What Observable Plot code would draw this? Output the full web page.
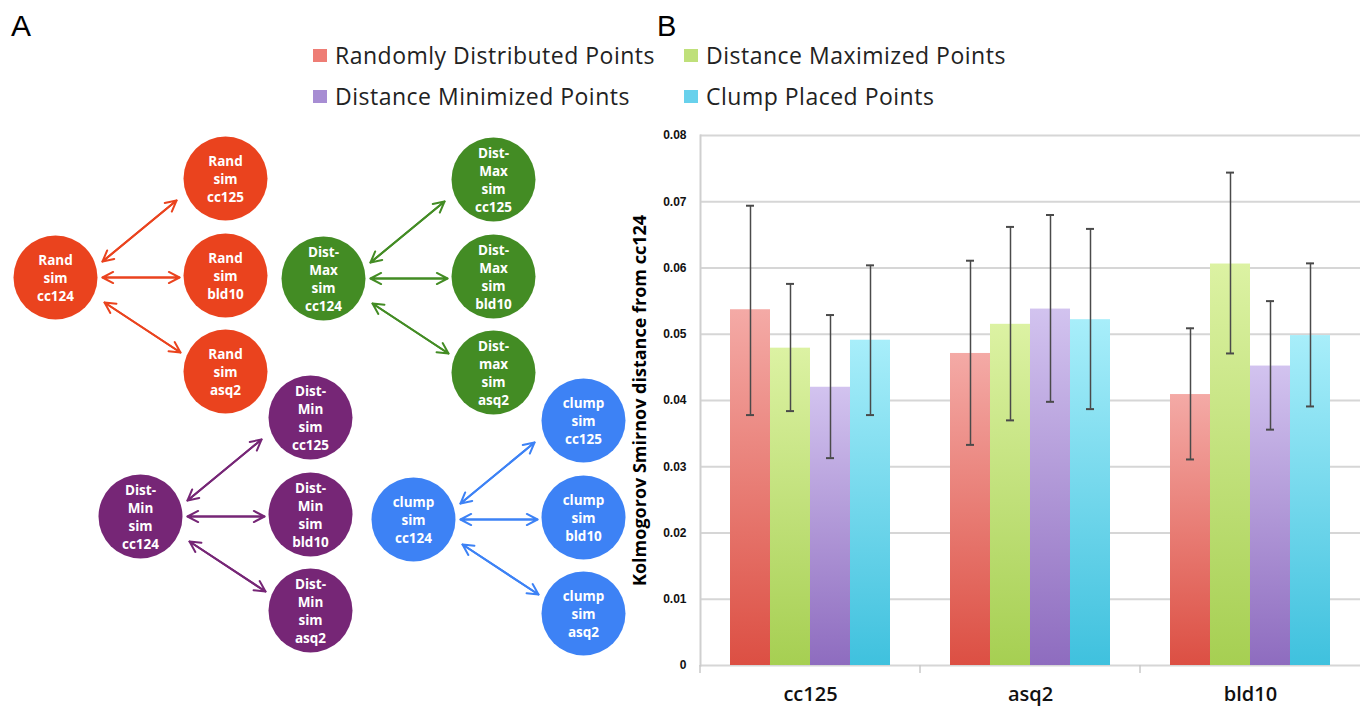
<!DOCTYPE html>
<html><head><meta charset="utf-8">
<script src="https://cdn.jsdelivr.net/npm/d3@7"></script>
<script src="https://cdn.jsdelivr.net/npm/@observablehq/plot@0.6"></script>
<style>
html,body{margin:0;padding:0;background:#fff;overflow:hidden;}
#root{position:relative;width:1360px;height:709px;overflow:hidden;font-family:"Open Sans",sans-serif;}
.panel-label{position:absolute;font-family:"Liberation Sans",Arial,sans-serif;font-size:30px;line-height:1;color:#000;}
#legend{position:absolute;left:313px;top:35px;display:grid;grid-template-columns:371px 371px;font-size:23px;letter-spacing:0.5px;line-height:41px;color:#222;}
.item{display:flex;align-items:center;white-space:nowrap;}
.sw{width:14px;height:13px;margin-right:8px;flex:none;}
#panelA{position:absolute;left:0;top:120px;}
#panelB{position:absolute;left:620px;top:120px;}
</style></head><body>
<svg width="0" height="0" style="position:absolute"><defs id="gdefs"></defs></svg>
<div id="root">
 <div class="panel-label" style="left:11px;top:11px">A</div>
 <div class="panel-label" style="left:657px;top:12px;font-size:29px">B</div>
 <div id="legend"></div>
 <div id="panelA"></div>
 <div id="panelB"></div>
</div>
<script>
// ---------- Panel B data ----------
const categories = ["cc125", "asq2", "bld10"];
const series = ["Randomly Distributed Points", "Distance Maximized Points", "Distance Minimized Points", "Clump Placed Points"];
const meanRandom = [0.0537, 0.0471, 0.0409];
const meanMax    = [0.0479, 0.0515, 0.0606];
const meanMin    = [0.0420, 0.0538, 0.0452];
const meanClump  = [0.0491, 0.0522, 0.0498];
const hiRandom = [0.0694, 0.0611, 0.0509];
const hiMax    = [0.0576, 0.0662, 0.0744];
const hiMin    = [0.0529, 0.0680, 0.0550];
const hiClump  = [0.0604, 0.0659, 0.0607];
const loRandom = [0.0378, 0.0333, 0.0311];
const loMax    = [0.0384, 0.0370, 0.0471];
const loMin    = [0.0313, 0.0398, 0.0356];
const loClump  = [0.0378, 0.0387, 0.0391];
const yTicks = [0, 0.01, 0.02, 0.03, 0.04, 0.05, 0.06, 0.07, 0.08];
const yLabel = "Kolmogorov Smirnov distance from cc124";

// ---------- Panel A data ----------
const groupNames = ["Rand", "Dist-Max", "Dist-Min", "clump"];
const hubX = [55, 323, 140, 413];
const hubY = [277, 278, 516, 519];
const leafDX = 170;
const leafDY = [-99, -2, 94];
const nodeLabels = [
  ["Rand\nsim\ncc124", "Rand\nsim\ncc125", "Rand\nsim\nbld10", "Rand\nsim\nasq2"],
  ["Dist-\nMax\nsim\ncc124", "Dist-\nMax\nsim\ncc125", "Dist-\nMax\nsim\nbld10", "Dist-\nmax\nsim\nasq2"],
  ["Dist-\nMin\nsim\ncc124", "Dist-\nMin\nsim\ncc125", "Dist-\nMin\nsim\nbld10", "Dist-\nMin\nsim\nasq2"],
  ["clump\nsim\ncc124", "clump\nsim\ncc125", "clump\nsim\nbld10", "clump\nsim\nasq2"]
];
const edgeStart = [[47, -16], [47, 0], [49, 25]];
const edgeEnd = [[121, -77], [124, 0], [125, 75]];

// ---------- styles ----------
const groupColors = ["#ea431e", "#438c24", "#762676", "#3d82f5"];
const swatchColors = ["#ee7d75", "#bfe07a", "#a78dd3", "#68d1ec"];
const gradTop = ["#f4aaa6", "#dcf2a3", "#d2c3ef", "#a8eefa"];
const gradBottom = ["#dc4f43", "#a6cf52", "#8e6cbf", "#3fc1de"];

// gradients
const defs = document.getElementById("gdefs");
const NS = "http://www.w3.org/2000/svg";
series.forEach((s, i) => {
  const g = document.createElementNS(NS, "linearGradient");
  g.setAttribute("id", "grad" + i);
  g.setAttribute("x1", 0); g.setAttribute("y1", 0); g.setAttribute("x2", 0); g.setAttribute("y2", 1);
  [[0, gradTop[i]], [1, gradBottom[i]]].forEach(([o, c]) => {
    const st = document.createElementNS(NS, "stop");
    st.setAttribute("offset", o); st.setAttribute("stop-color", c);
    g.appendChild(st);
  });
  defs.appendChild(g);
});

// legend
const legend = document.getElementById("legend");
series.forEach((s, i) => {
  const it = document.createElement("div"); it.className = "item";
  const sw = document.createElement("span"); sw.className = "sw"; sw.style.background = swatchColors[i];
  const tx = document.createElement("span"); tx.textContent = s;
  it.appendChild(sw); it.appendChild(tx); legend.appendChild(it);
});

// ---------- Panel A ----------
const nodes = [];
const edges = [];
groupNames.forEach((g, gi) => {
  nodes.push({group: g, x: hubX[gi], y: hubY[gi], label: nodeLabels[gi][0]});
  leafDY.forEach((dy, li) => {
    nodes.push({group: g, x: hubX[gi] + leafDX, y: hubY[gi] + dy, label: nodeLabels[gi][li + 1]});
    edges.push({group: g,
      x1: hubX[gi] + edgeStart[li][0], y1: hubY[gi] + edgeStart[li][1],
      x2: hubX[gi] + edgeEnd[li][0], y2: hubY[gi] + edgeEnd[li][1]});
  });
});

const A = Plot.plot({
  width: 640, height: 560, margin: 0,
  x: {domain: [0, 640], axis: null},
  y: {domain: [120, 680], reverse: true, axis: null},
  color: {domain: groupNames, range: groupColors},
  style: {background: "transparent"},
  marks: [
    Plot.arrow(edges, {x1: "x1", y1: "y1", x2: "x2", y2: "y2", stroke: "group", strokeWidth: 2, headLength: 9, headAngle: 55}),
    Plot.arrow(edges, {x1: "x2", y1: "y2", x2: "x1", y2: "y1", stroke: "group", strokeWidth: 2, headLength: 9, headAngle: 55}),
    Plot.dot(nodes, {x: "x", y: "y", r: 42, fill: "group"}),
    Plot.text(nodes, {x: "x", y: "y", text: "label", fill: "white", fontSize: 13.5, fontWeight: 700, lineHeight: 1.33, fontFamily: "Open Sans"})
  ]
});
document.getElementById("panelA").appendChild(A);

// ---------- Panel B ----------
const means = [meanRandom, meanMax, meanMin, meanClump];
const his = [hiRandom, hiMax, hiMin, hiClump];
const los = [loRandom, loMax, loMin, loClump];
const rows = categories.flatMap((c, i) => series.map((s, j) => ({cat: c, series: s, value: means[j][i], hi: his[j][i], lo: los[j][i]})));

const boundaryTick = (index, scales, values, dims) => {
  const y0 = dims.height - dims.marginBottom;
  const l = document.createElementNS(NS, "line");
  l.setAttribute("x1", dims.marginLeft); l.setAttribute("x2", dims.marginLeft);
  l.setAttribute("y1", y0); l.setAttribute("y2", y0 + 8);
  l.setAttribute("stroke", "#c8c8c8"); l.setAttribute("stroke-width", 1.5);
  return l;
};

const B = Plot.plot({
  width: 740, height: 589, marginLeft: 79, marginRight: 0, marginTop: 15, marginBottom: 44,
  style: {fontFamily: "'Liberation Sans', Arial, sans-serif", fontSize: "12px", fontWeight: "bold", color: "#111", background: "transparent"},
  fx: {domain: categories, padding: 0, label: null, tickSize: 0, tickPadding: 21},
  x: {domain: series, paddingInner: 0, paddingOuter: 0.74, axis: null},
  y: {domain: [0, 0.08], ticks: yTicks, tickFormat: d3.format(".2~f"), tickSize: 0, tickPadding: 14,
      label: yLabel, labelAnchor: "center", labelOffset: 67, labelArrow: "none"},
  color: {domain: series, range: series.map((s, i) => `url(#grad${i})`)},
  marks: [
    Plot.ruleY(yTicks, {stroke: "#d6d6d6", strokeWidth: 2}),
    Plot.barY(rows, {fx: "cat", x: "series", y: "value", fill: "series", inset: 0}),
    Plot.ruleX(rows, {fx: "cat", x: "series", y1: "lo", y2: "hi", stroke: "#4a4a4a", strokeWidth: 1.5}),
    Plot.tickY(rows, {fx: "cat", x: "series", y: "hi", stroke: "#4a4a4a", strokeWidth: 2, insetLeft: 16, insetRight: 16}),
    Plot.tickY(rows, {fx: "cat", x: "series", y: "lo", stroke: "#4a4a4a", strokeWidth: 2, insetLeft: 16, insetRight: 16}),
    Plot.frame({anchor: "left", stroke: "#cfcfcf", strokeWidth: 2, facetAnchor: "left"}),
    boundaryTick
  ]
});
// text styling of axis label and facet labels
B.querySelectorAll("text").forEach(t => {
  const s = t.textContent.trim();
  if (s.startsWith("Kolmogorov")) {
    t.style.fontSize = "18px"; t.style.fontFamily = "'Open Sans', sans-serif"; t.style.fontWeight = "700"; t.style.fill = "#000";
  } else if (categories.includes(s)) {
    t.style.fontSize = "20px"; t.style.fontFamily = "'Open Sans', sans-serif"; t.style.fontWeight = "600"; t.style.fill = "#111";
  }
});
document.getElementById("panelB").appendChild(B);
</script>
</body></html>
